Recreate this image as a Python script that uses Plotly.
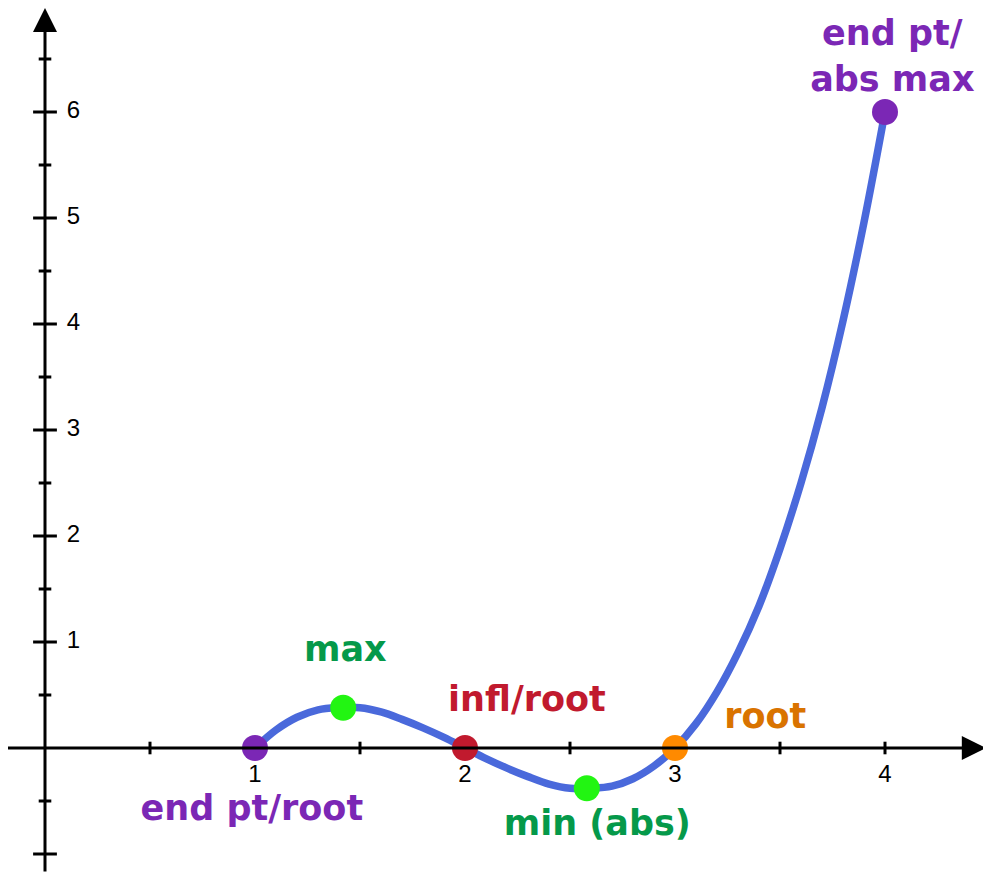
import plotly.graph_objects as go

# ---- data ----
curve_x = [1.0, 1.1, 1.2, 1.3, 1.4, 1.5, 1.6, 1.7, 1.8, 1.9, 2.0,
           2.1, 2.2, 2.3, 2.4, 2.5, 2.6, 2.7, 2.8, 2.9, 3.0,
           3.1, 3.2, 3.3, 3.4, 3.5, 3.6, 3.7, 3.8, 3.9, 4.0]
curve_y = [0.0, 0.17, 0.29, 0.36, 0.38, 0.38, 0.34, 0.27, 0.19, 0.10, 0.0,
           -0.10, -0.19, -0.27, -0.34, -0.38, -0.38, -0.36, -0.29, -0.17, 0.0,
           0.23, 0.53, 0.90, 1.34, 1.88, 2.50, 3.21, 4.03, 4.96, 6.0]

point_x = [1.0, 1.42, 2.0, 2.58, 3.0, 4.0]
point_y = [0.0, 0.38, 0.0, -0.38, 0.0, 6.0]
point_colors = ["#7B27B5", "#22F512", "#C11A2E", "#22F512", "#FF8A00", "#7B27B5"]

label_text = ["end pt/root", "max", "infl/root", "min (abs)", "root", "end pt/<br>abs max"]
label_x = [0.985, 1.43, 2.295, 2.63, 3.43, 4.035]
label_y = [-0.6, 0.9, 0.43, -0.74, 0.27, 6.5]
label_colors = ["#7B27B5", "#05994A", "#C11A2E", "#05994A", "#D97300", "#7B27B5"]

x_tick_labels = [1, 2, 3, 4]
y_tick_labels = [1, 2, 3, 4, 5, 6]
x_minor_ticks = [0.5, 1.5, 2.5, 3.5, 4.0]
y_major_ticks = [-1, 1, 2, 3, 4, 5, 6]
y_minor_ticks = [-0.5, 0.5, 1.5, 2.5, 3.5, 4.5, 5.5, 6.5]

x_axis_span = [-0.185, 4.48]
y_axis_span = [-1.18, 6.98]

# page body has an 8px margin, so the origin sits at (37, 740) inside the figure
X_RANGE = [-37 / 210, 954 / 210]
Y_RANGE = [-142 / 106, 740 / 106]

fig = go.Figure()

# ticks
fig.add_trace(go.Scatter(x=x_minor_ticks, y=[0] * len(x_minor_ticks), mode="markers",
                         marker=dict(symbol="line-ns", size=9, line=dict(width=3, color="black")),
                         hoverinfo="skip"))
fig.add_trace(go.Scatter(x=[0] * len(y_major_ticks), y=y_major_ticks, mode="markers",
                         marker=dict(symbol="line-ew", size=17, line=dict(width=3, color="black")),
                         hoverinfo="skip"))
fig.add_trace(go.Scatter(x=[0] * len(y_minor_ticks), y=y_minor_ticks, mode="markers",
                         marker=dict(symbol="line-ew", size=9, line=dict(width=3, color="black")),
                         hoverinfo="skip"))

# tick labels
fig.add_trace(go.Scatter(x=x_tick_labels, y=[-0.26] * len(x_tick_labels), mode="text",
                         text=[str(v) for v in x_tick_labels],
                         textfont=dict(family="Liberation Sans, Arial", size=24, color="black"),
                         hoverinfo="skip"))
fig.add_trace(go.Scatter(x=[0.135] * len(y_tick_labels), y=y_tick_labels, mode="text",
                         text=[str(v) for v in y_tick_labels],
                         textfont=dict(family="Liberation Sans, Arial", size=24, color="black"),
                         hoverinfo="skip"))

# curve
fig.add_trace(go.Scatter(x=curve_x, y=curve_y, mode="lines", line_shape="spline",
                         line=dict(color="#4A69DB", width=7.5), hoverinfo="skip"))

# points
fig.add_trace(go.Scatter(x=point_x, y=point_y, mode="markers",
                         marker=dict(size=26, color=point_colors, line=dict(width=0)),
                         hoverinfo="skip"))

# labels
fig.add_trace(go.Scatter(x=label_x, y=label_y, mode="text", text=label_text,
                         textfont=dict(family="DejaVu Sans", size=35, color=label_colors,
                                       weight="bold"),
                         hoverinfo="skip"))

# axes with arrows
fig.add_annotation(x=x_axis_span[1], y=0, ax=x_axis_span[0], ay=0, xref="x", yref="y",
                   axref="x", ayref="y", text="", showarrow=True, arrowhead=2,
                   arrowsize=1.6, arrowwidth=3, arrowcolor="black")
fig.add_annotation(x=0, y=y_axis_span[1], ax=0, ay=y_axis_span[0], xref="x", yref="y",
                   axref="x", ayref="y", text="", showarrow=True, arrowhead=2,
                   arrowsize=1.6, arrowwidth=3, arrowcolor="black")

fig.update_layout(
    width=991, height=882, margin=dict(l=0, r=0, t=0, b=0),
    plot_bgcolor="white", paper_bgcolor="white", showlegend=False,
    xaxis=dict(range=X_RANGE, visible=False, fixedrange=True),
    yaxis=dict(range=Y_RANGE, visible=False, fixedrange=True),
)

fig.write_html("out.html")
